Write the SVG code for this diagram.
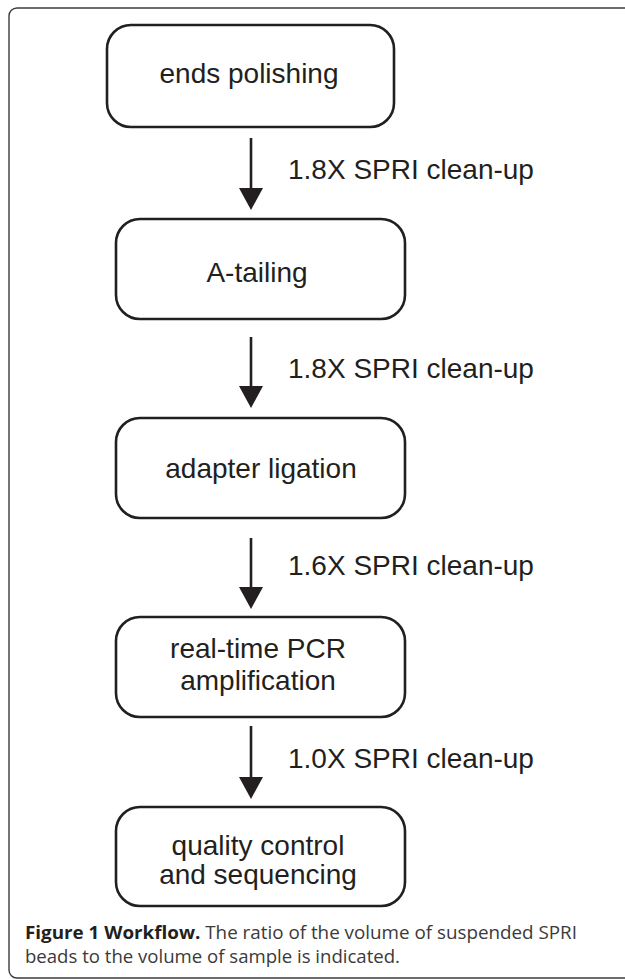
<svg xmlns="http://www.w3.org/2000/svg" width="625" height="979" viewBox="0 0 625 979">
<style>
.box{fill:#fff;stroke:#231f20;stroke-width:2.6}
.lbl{font-family:"Liberation Sans",Arial,sans-serif;font-size:28px;fill:#231f20}
.ctr{text-anchor:middle}
.edge{stroke:#231f20;stroke-width:2.6;fill:none}
.cap{font-family:"Open Sans","Noto Sans",sans-serif;font-size:18px;fill:#3a3a3a}
</style>
<defs>
<marker id="ah" markerUnits="userSpaceOnUse" markerWidth="22" markerHeight="24" refX="0" refY="12" orient="auto" viewBox="0 0 22 24">
<path d="M0,0 L22,12 L0,24 Z" fill="#231f20"/>
</marker>
</defs>
<rect x="9" y="8" width="720" height="970" rx="8" fill="none" stroke="#3c3c3c" stroke-width="1.4"/>
<g id="n1">
<rect class="box" x="107" y="25" width="287" height="102" rx="24"/>
<text class="lbl ctr" x="249" y="83">ends polishing</text>
</g>
<g id="n2">
<rect class="box" x="116" y="219" width="289" height="100" rx="24"/>
<text class="lbl ctr" x="257" y="282">A-tailing</text>
</g>
<g id="n3">
<rect class="box" x="116" y="418" width="289" height="100" rx="24"/>
<text class="lbl ctr" x="261" y="478">adapter ligation</text>
</g>
<g id="n4">
<rect class="box" x="116" y="617" width="289" height="100" rx="24"/>
<text class="lbl ctr" x="258" y="658">real-time PCR</text>
<text class="lbl ctr" x="258" y="690">amplification</text>
</g>
<g id="n5">
<rect class="box" x="116" y="807" width="289" height="99" rx="24"/>
<text class="lbl ctr" x="258" y="855">quality control</text>
<text class="lbl ctr" x="258" y="884">and sequencing</text>
</g>
<g id="connectors">
<line class="edge" x1="251" y1="138" x2="251" y2="188" marker-end="url(#ah)"/>
<text class="lbl" x="288" y="179">1.8X SPRI clean-up</text>
<line class="edge" x1="251" y1="337" x2="251" y2="386" marker-end="url(#ah)"/>
<text class="lbl" x="288" y="378">1.8X SPRI clean-up</text>
<line class="edge" x1="251" y1="538" x2="251" y2="587" marker-end="url(#ah)"/>
<text class="lbl" x="288" y="575">1.6X SPRI clean-up</text>
<line class="edge" x1="251" y1="726" x2="251" y2="777" marker-end="url(#ah)"/>
<text class="lbl" x="288" y="768">1.0X SPRI clean-up</text>
</g>
<g id="caption">
<text class="cap" x="25" y="939" textLength="552" lengthAdjust="spacingAndGlyphs"><tspan font-weight="bold" fill="#231f20">Figure 1 Workflow.</tspan> The ratio of the volume of suspended SPRI</text>
<text class="cap" x="25" y="963" textLength="375" lengthAdjust="spacingAndGlyphs">beads to the volume of sample is indicated.</text>
</g>
</svg>
